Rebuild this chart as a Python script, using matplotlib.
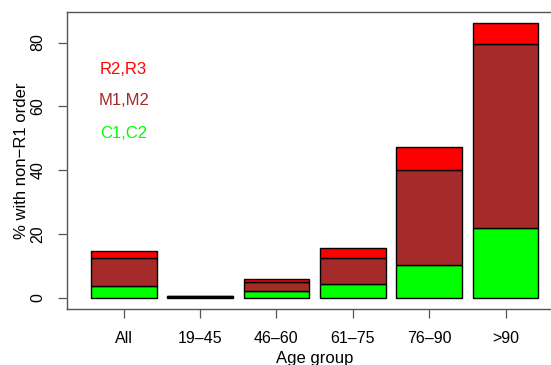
import matplotlib.pyplot as plt
import numpy as np

plt.rcParams['font.family'] = ['Liberation Sans', 'DejaVu Sans']

groups = ["All", "19\u201345", "46\u201360", "61\u201375", "76\u201390", ">90"]
c12 = [3.7, 0.3, 2.1, 4.4, 10.3, 21.8]
m12 = [8.7, 0.2, 2.8, 8.0, 29.8, 57.9]
r23 = [2.1, 0.1, 1.1, 3.2, 7.2, 6.5]

col_c = "#00FF00"
col_m = "#A52A2A"
col_r = "#FF0000"

fig = plt.figure(figsize=(5.51, 3.65), dpi=100)
ax = fig.add_axes([0.1216, 0.1534, 0.898, 0.8148])

x = np.arange(len(groups))
w = 0.86
c12 = np.array(c12)
m12 = np.array(m12)
r23 = np.array(r23)
ax.bar(x, c12, w, color=col_c, edgecolor="black", linewidth=1)
ax.bar(x, m12, w, bottom=c12, color=col_m, edgecolor="black", linewidth=1)
ax.bar(x, r23, w, bottom=c12 + m12, color=col_r, edgecolor="black", linewidth=1)

ax.set_xlim(-0.742, 5.737)
ax.set_ylim(-3.54, 89.7)

ax.text(0, 71.4, "R2,R3", color=col_r, ha="center", va="center", fontsize=12)
ax.text(0, 61.7, "M1,M2", color=col_m, ha="center", va="center", fontsize=12)
ax.text(0, 51.6, "C1,C2", color=col_c, ha="center", va="center", fontsize=12)

ax.set_xticks(x)
ax.set_xticklabels(groups, fontsize=11.5)
ax.set_yticks([0, 20, 40, 60, 80])
ax.set_yticklabels(["0", "20", "40", "60", "80"], rotation=90, va="center", fontsize=11.5)
ax.tick_params(axis="both", length=6.5, width=0.9, color="#555555")
ax.tick_params(axis="x", pad=9)
ax.tick_params(axis="y", pad=9)

for s in ["left", "top", "bottom"]:
    ax.spines[s].set_color("#555555")
    ax.spines[s].set_linewidth(1.0)
ax.spines["right"].set_visible(False)

ax.set_xlabel("Age group", fontsize=12, labelpad=4)
ax.set_ylabel("% with non\u2212R1 order", fontsize=12, labelpad=1)

fig.savefig("out.png", dpi=100)
